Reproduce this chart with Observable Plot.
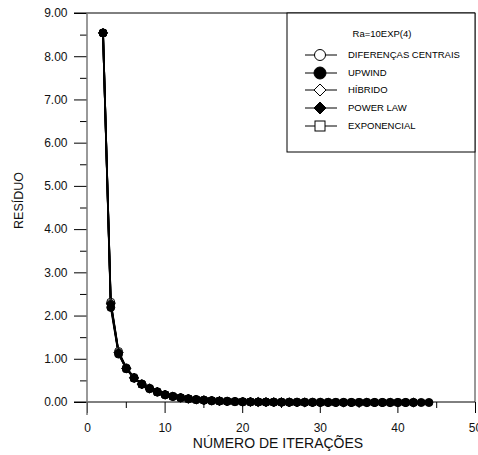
<!DOCTYPE html>
<html>
<head>
<meta charset="utf-8">
<script src="https://cdn.jsdelivr.net/npm/d3@7"></script>
<script src="https://cdn.jsdelivr.net/npm/@observablehq/plot@0.6"></script>
<style>
  html, body { margin: 0; padding: 0; background: #fff; }
  #chart { width: 478px; height: 455px; }
  svg { font-family: "Liberation Sans", Arial, sans-serif; }
</style>
</head>
<body>
<div id="chart"></div>
<script>
// ---- Data ----
const iterations = [2,3,4,5,6,7,8,9,10,11,12,13,14,15,16,17,18,19,20,21,22,23,24,25,26,27,28,29,30,31,32,33,34,35,36,37,38,39,40,41,42,43,44];

const diferencasCentrais = [8.55,2.32,1.18,0.80,0.58,0.43,0.33,0.25,0.18,0.14,0.11,0.085,0.066,0.052,0.041,0.032,0.026,0.021,0.017,0.014,0.011,0.009,0.007,0.006,0.005,0.004,0.0035,0.003,0.0025,0.002,0.0017,0.0014,0.0012,0.001,0.0008,0.0007,0.0006,0.0005,0.0004,0.0003,0.0003];
const upwind = [8.55,2.20,1.12,0.78,0.56,0.42,0.32,0.24,0.18,0.14,0.11,0.087,0.068,0.054,0.043,0.034,0.027,0.022,0.018,0.015,0.012,0.010,0.008,0.0065,0.0055,0.0045,0.0038,0.0032,0.0027,0.0022,0.0019,0.0016,0.0013,0.0011,0.0009,0.0008,0.0007,0.0006,0.0005,0.0004,0.0004,0.0003,0.0003];
const hibrido = [8.55,2.30,1.16,0.79,0.57,0.43,0.33,0.25,0.18,0.14,0.11,0.086,0.067,0.053,0.042,0.033,0.026,0.021,0.017,0.014,0.011,0.009,0.007,0.006,0.005,0.004,0.0035,0.003,0.0025,0.002,0.0017,0.0014,0.0012,0.001,0.0008,0.0007,0.0006,0.0005,0.0004,0.0003,0.0003];
const powerLaw = [8.55,2.28,1.15,0.79,0.57,0.42,0.32,0.25,0.18,0.14,0.11,0.086,0.067,0.053,0.042,0.033,0.026,0.021,0.017,0.014,0.011,0.009,0.007,0.006,0.005,0.004,0.0035,0.003,0.0025,0.002,0.0017,0.0014,0.0012,0.001,0.0008,0.0007,0.0006,0.0005,0.0004,0.0003,0.0003];
const exponencial = [8.55,2.25,1.14,0.78,0.56,0.42,0.32,0.24,0.18,0.14,0.11,0.086,0.067,0.053,0.042,0.033,0.026,0.021,0.017,0.014,0.011,0.009,0.007,0.006,0.005,0.004,0.0035,0.003,0.0025,0.002,0.0017,0.0014,0.0012,0.001,0.0008,0.0007,0.0006,0.0005,0.0004,0.0003,0.0003];

const seriesNames = ["DIFERENÇAS CENTRAIS","UPWIND","HÍBRIDO","POWER LAW","EXPONENCIAL"];
const legendTitle = "Ra=10EXP(4)";
const xTicks = [0,10,20,30,40,50];
const xMinorTicks = [5,15,25,35,45];
const yTicks = [0,1,2,3,4,5,6,7,8,9];
const yMinorTicks = [0.5,1.5,2.5,3.5,4.5,5.5,6.5,7.5,8.5];
const xTitle = "NÚMERO DE ITERAÇÕES";
const yTitle = "RESÍDUO";

// symbol styling per series
const styles = [
  {symbol: "circle", fill: "white", r: 4},
  {symbol: "circle", fill: "black", r: 4},
  {symbol: "diamond2", fill: "white", r: 4},
  {symbol: "diamond2", fill: "black", r: 4},
  {symbol: "square2", fill: "white", r: 4}
];
// drawing order of the marker layers (filled markers on top, as in the reference)
const dotOrder = [0, 2, 4, 3, 1];

const seriesValues = [diferencasCentrais, upwind, hibrido, powerLaw, exponencial];
const tables = seriesValues.map((vals, i) =>
  vals.map((v, j) => ({series: seriesNames[i], iter: iterations[j], res: v}))
);

const font = '"Liberation Sans", Arial, sans-serif';

// frame, axis lines, titles and legend drawn from the plot dimensions
function decorations(index, scales, values, dims) {
  const {width, height, marginLeft, marginRight, marginTop, marginBottom} = dims;
  const L = marginLeft, R = width - marginRight, T = marginTop, B = height - marginBottom;
  const g = d3.create("svg:g").attr("text-anchor", "start");
  // top frame
  g.append("line").attr("x1", L - 13).attr("x2", R).attr("y1", T).attr("y2", T).attr("stroke", "black");
  // right frame
  g.append("line").attr("x1", R).attr("x2", R).attr("y1", T).attr("y2", B).attr("stroke", "#333");
  // x axis line
  g.append("line").attr("x1", L - 13).attr("x2", R).attr("y1", B).attr("y2", B).attr("stroke", "black");
  // y axis line (grey)
  g.append("line").attr("x1", L).attr("x2", L).attr("y1", T).attr("y2", B + 13).attr("stroke", "#777").attr("stroke-width", 1.5);

  // titles
  g.append("text").attr("x", (L + R) / 2 - 3).attr("y", B + 46)
    .attr("text-anchor", "middle").attr("font-size", 14).attr("font-family", font).attr("fill", "#111").text(xTitle);
  g.append("text").attr("transform", `translate(${23},${(T + B) / 2 - 7}) rotate(-90)`)
    .attr("text-anchor", "middle").attr("font-size", 12.5).attr("font-family", font).attr("fill", "#111").text(yTitle);

  // legend
  const lx = R - 188, ly = T, lw = 188, lh = 139;
  const lg = g.append("g");
  lg.append("rect").attr("x", lx).attr("y", ly).attr("width", lw).attr("height", lh)
    .attr("fill", "white").attr("stroke", "black");
  lg.append("text").attr("x", lx + 95).attr("y", ly + 21).attr("dy", "0.35em")
    .attr("text-anchor", "middle").attr("font-size", 9.5).attr("font-family", font).text(legendTitle);
  const rowY = [42, 60, 77, 95, 113];
  seriesNames.forEach((name, i) => {
    const y = ly + rowY[i];
    const cx = lx + 33;
    lg.append("line").attr("x1", lx + 18).attr("x2", lx + 50).attr("y1", y).attr("y2", y).attr("stroke", "black");
    const s = styles[i];
    if (s.symbol === "circle") {
      lg.append("circle").attr("cx", cx).attr("cy", y).attr("r", s.fill === "black" ? 6 : 5.5)
        .attr("fill", s.fill).attr("stroke", "black");
    } else if (s.symbol === "diamond2") {
      const d = 6;
      lg.append("path").attr("d", `M${cx},${y - d}L${cx + d},${y}L${cx},${y + d}L${cx - d},${y}Z`)
        .attr("fill", s.fill).attr("stroke", "black");
    } else {
      lg.append("rect").attr("x", cx - 5).attr("y", y - 5).attr("width", 10).attr("height", 10)
        .attr("fill", s.fill).attr("stroke", "black");
    }
    lg.append("text").attr("x", lx + 61).attr("y", y).attr("dy", "0.35em")
      .attr("text-anchor", "start").attr("font-size", 9.5).attr("font-family", font).text(name);
  });
  return g.node();
}

const marks = [];
tables.forEach((t) => {
  marks.push(Plot.line(t, {x: "iter", y: "res", stroke: "black", strokeWidth: 1.8}));
});
dotOrder.forEach((i) => {
  const s = styles[i];
  marks.push(Plot.dot(tables[i], {x: "iter", y: "res", symbol: () => s.symbol, r: s.r, fill: s.fill, stroke: "black", strokeWidth: 1}));
});

const chart = Plot.plot({
  width: 478,
  height: 455,
  marginLeft: 87,
  marginRight: 3,
  marginTop: 13,
  marginBottom: 53,
  style: {fontFamily: font, fontSize: "12px", color: "black", background: "white"},
  x: {domain: [0, 50], axis: null},
  y: {domain: [0, 9], axis: null},
  symbol: {type: "identity"},
  marks: [
    Plot.axisY(yTicks, {tickSize: 13, tickPadding: 7, tickFormat: d => d.toFixed(2), fontSize: 12, label: null, stroke: "black", fill: "#111"}),
    Plot.axisY(yMinorTicks, {tickSize: 7, tickFormat: () => "", label: null, stroke: "black"}),
    Plot.axisX(xTicks, {tickSize: 11, tickPadding: 10, fontSize: 12, label: null, stroke: "black", fill: "#111"}),
    Plot.axisX(xMinorTicks, {tickSize: 6, tickFormat: () => "", label: null, stroke: "black"}),
    decorations,
    ...marks
  ]
});

document.getElementById("chart").appendChild(chart);
</script>
</body>
</html>
